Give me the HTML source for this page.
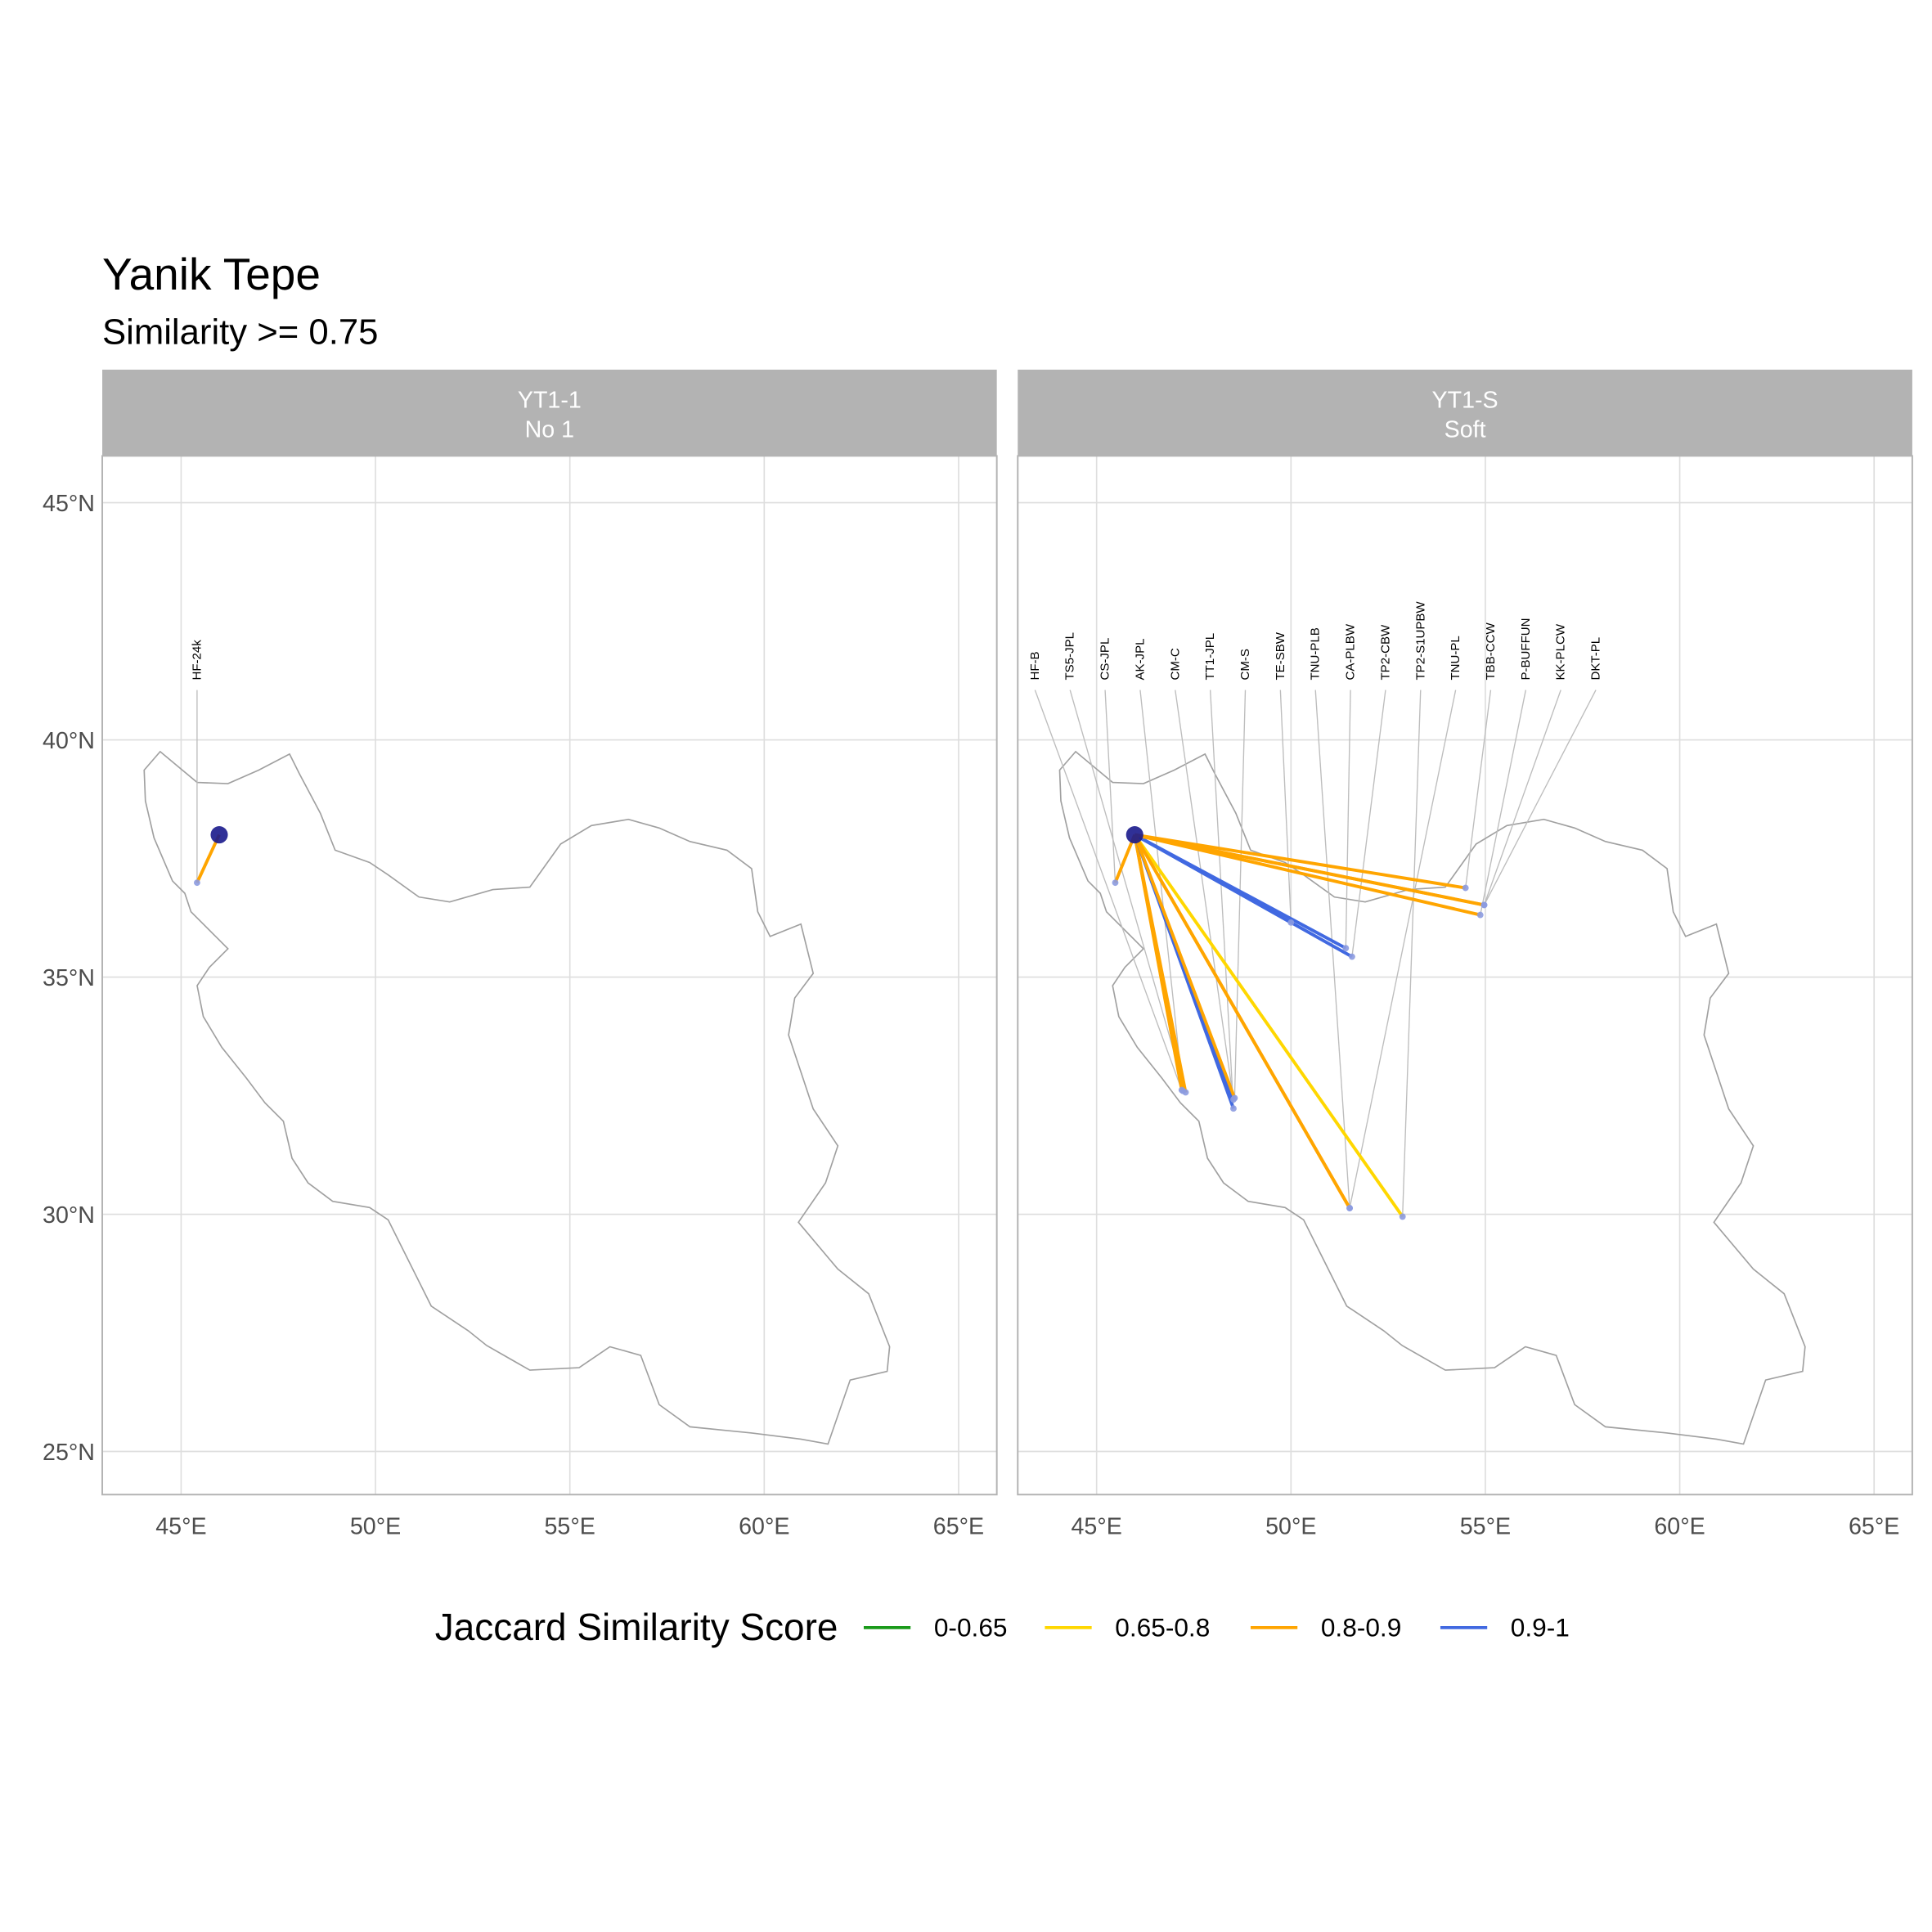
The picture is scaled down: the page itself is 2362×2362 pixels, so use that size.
<!DOCTYPE html>
<html><head><meta charset="utf-8"><style>
html,body{margin:0;padding:0;background:#fff;}
svg{display:block;font-family:"Liberation Sans",Arial,sans-serif;}
</style></head><body>
<svg id="chart" width="2362" height="2362" viewBox="0 0 1568 1568" xmlns="http://www.w3.org/2000/svg">
<text x="83" y="235" font-size="36.5" fill="#000">Yanik Tepe</text>
<text x="83" y="279" font-size="29" fill="#000">Similarity &gt;= 0.75</text>
<g id="panels"></g>
<g>
<text x="353" y="1331" font-size="30.5" fill="#000">Jaccard Similarity Score</text>
<g><line x1="701" y1="1321" x2="739" y2="1321" stroke="#1a9a1a" stroke-width="2.5"/><text x="758" y="1328" font-size="21">0-0.65</text></g>
<g><line x1="848" y1="1321" x2="886" y2="1321" stroke="#ffd700" stroke-width="2.5"/><text x="905" y="1328" font-size="21">0.65-0.8</text></g>
<g><line x1="1015" y1="1321" x2="1053" y2="1321" stroke="#ffa500" stroke-width="2.5"/><text x="1072" y="1328" font-size="21">0.8-0.9</text></g>
<g><line x1="1169" y1="1321" x2="1207" y2="1321" stroke="#4169e1" stroke-width="2.5"/><text x="1226" y="1328" font-size="21">0.9-1</text></g>
</g>
</svg>
<script>
const NS="http://www.w3.org/2000/svg";
const lonTicks=[45,50,55,60,65];
const latTicks=[45,40,35,30,25];
const originLon=45.98, originLat=38.0;
// panel 1 sites
const p1Names=["HF-24k"];
const p1Lon=[45.41];
const p1Lat=[36.99];
const p1Class=["0.8-0.9"];
// panel 2 sites (label order)
const p2Names=["HF-B","TS5-JPL","CS-JPL","AK-JPL","CM-C","TT1-JPL","CM-S","TE-SBW","TNU-PLB","CA-PLBW","TP2-CBW","TP2-S1UPBW","TNU-PL","TBB-CCW","P-BUFFUN","KK-PLCW","DKT-PL"];
const p2Lon=[47.19,47.29,45.48,47.22,48.52,48.52,48.55,50.0,51.51,51.41,51.57,52.87,51.51,54.49,54.87,54.97,54.97];
const p2Lat=[32.62,32.57,36.99,32.6,32.42,32.23,32.45,36.15,30.13,35.61,35.43,29.95,30.13,36.88,36.31,36.52,36.52];
const p2Class=["0.8-0.9","0.8-0.9","0.8-0.9","0.8-0.9","0.9-1","0.9-1","0.8-0.9","0.9-1","0.8-0.9","0.9-1","0.9-1","0.65-0.8","0.8-0.9","0.8-0.9","0.8-0.9","0.8-0.9","0.8-0.9"];
const colorOf={"0-0.65":"#1a9a1a","0.65-0.8":"#ffd700","0.8-0.9":"#ffa500","0.9-1":"#4169e1"};
// Iran outline in panel-1 pixel coords
const outline=[[117,625],[130,610],[148,625],[160,635],[185,636],[210,625],[235,612],[243,628],[260,660],[272,690],[300,700],[315,710],[340,728],[365,732],[400,722],[430,720],[455,685],[480,670],[510,665],[535,672],[560,683],[590,690],[610,705],[615,740],[625,760],[650,750],[660,790],[645,810],[640,840],[650,870],[660,900],[680,930],[670,960],[648,992],[680,1030],[705,1050],[722,1093],[720,1113],[690,1120],[672,1172],[650,1168],[610,1163],[560,1158],[535,1140],[520,1100],[495,1093],[470,1110],[430,1112],[395,1092],[380,1080],[350,1060],[330,1020],[315,990],[300,980],[270,975],[250,960],[237,940],[230,910],[215,895],[200,875],[180,850],[165,825],[160,800],[170,785],[185,770],[175,760],[155,740],[150,725],[140,715],[125,680],[118,650]];
const panelsG=document.getElementById('panels');
function mk(tag,attrs,parent){const e=document.createElementNS(NS,tag);for(const k in attrs)e.setAttribute(k,attrs[k]);parent.appendChild(e);return e;}
function drawPanel(px,strip1,strip2,names,lons,lats,cls,labelMode,pname){
  const g=mk('g',{},panelsG);
  
  
  const x0=px, x1=px+726, y0=370, y1=1213;
  const xS=lon=>x0+64+(lon-45)*31.55;
  const yS=lat=>408+(45-lat)*38.5;
  const strip=mk('rect',{x:x0,y:300,width:726,height:70,fill:'#b3b3b3'},g);
  
  
  const t1=mk('text',{x:x0+363,y:331,'font-size':19,fill:'#fff','text-anchor':'middle'},g);t1.textContent=strip1;
  
  
  const t2=mk('text',{x:x0+363,y:355,'font-size':19,fill:'#fff','text-anchor':'middle'},g);t2.textContent=strip2;
  
  
  lonTicks.forEach(l=>{const x=xS(l);const gl=mk('line',{x1:x,x2:x,y1:y0,y2:y1,stroke:'#dedede','stroke-width':1.1},g);
    
    const tt=mk('text',{x:x,y:1245,'font-size':19,fill:'#4d4d4d','text-anchor':'middle'},g);tt.textContent=l+'°E';
    });
  latTicks.forEach(l=>{const y=yS(l);const gl=mk('line',{x1:x0,x2:x1,y1:y,y2:y,stroke:'#dedede','stroke-width':1.1},g);
    
    if(px<400){const tt=mk('text',{x:x0-6,y:y+7,'font-size':19,fill:'#4d4d4d','text-anchor':'end'},g);tt.textContent=l+'°N';
    }});
  const d='M'+outline.map(p=>(p[0]+px-83)+','+p[1]).join('L')+'Z';
  const path=mk('path',{d:d,fill:'none',stroke:'#a0a0a0','stroke-width':1.1},g);
  
  mk('rect',{x:x0,y:y0,width:726,height:y1-y0,fill:'none',stroke:'#b3b3b3','stroke-width':1.3},g);
  const ox=xS(originLon), oy=yS(originLat);
  names.forEach((nm,i)=>{
    const lx = labelMode ? x0+14+i*28.45 : xS(lons[i]);
    const ly = 552;
    const ll=mk('line',{x1:lx,y1:ly+8,x2:xS(lons[i]),y2:yS(lats[i]),stroke:'#bdbdbd','stroke-width':0.9},g);
    
    const lt=mk('text',{x:lx+3,y:ly,'font-size':10,fill:'#000',transform:`rotate(-90 ${lx+3} ${ly})`},g);lt.textContent=nm;
    
  });
  names.forEach((nm,i)=>{
    const ln=mk('line',{x1:ox,y1:oy,x2:xS(lons[i]),y2:yS(lats[i]),stroke:colorOf[cls[i]],'stroke-width':2.6},g);
    
  });
  names.forEach((nm,i)=>{
    const c=mk('circle',{cx:xS(lons[i]),cy:yS(lats[i]),r:2.6,fill:'#8c9be0',opacity:0.9},g);
    
  });
  const o=mk('circle',{cx:ox,cy:oy,r:7,fill:'#1a1a8c',opacity:0.9},g);
  
}
drawPanel(83,'YT1-1','No 1',p1Names,p1Lon,p1Lat,p1Class,false,'panel-yt1-1');
drawPanel(826,'YT1-S','Soft',p2Names,p2Lon,p2Lat,p2Class,true,'panel-yt1-s');
</script>
</body></html>
